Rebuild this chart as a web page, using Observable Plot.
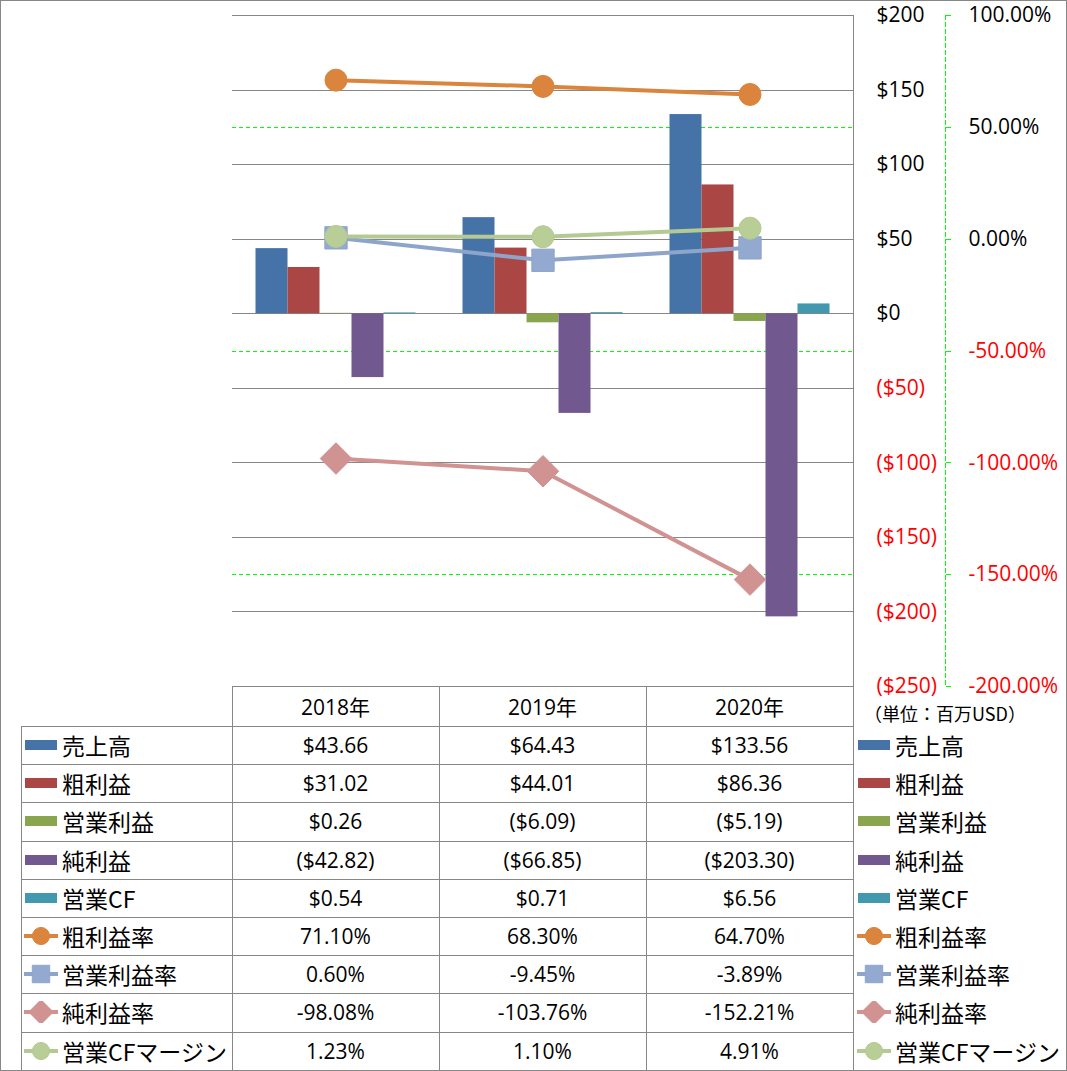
<!DOCTYPE html>
<html><head><meta charset="utf-8">
<script src="https://cdn.jsdelivr.net/npm/d3@7"></script>
<script src="https://cdn.jsdelivr.net/npm/@observablehq/plot@0.6"></script>
<style>
body{margin:0;background:#fff;}
#wrap{position:relative;width:1067px;height:1071px;overflow:hidden;background:#fff;font-family:"Open Sans","Noto Sans CJK JP",sans-serif;color:#000;}
#outer{position:absolute;left:0;top:0;width:1067px;height:1071px;box-sizing:border-box;border:1px solid #878787;pointer-events:none;}
#chart{position:absolute;left:0;top:0;}
#chart svg g[aria-label="rule"], #chart svg g[aria-label="frame"], #chart svg g[aria-label="y-axis tick"]{shape-rendering:crispEdges;}
.ln{position:absolute;background:#878787;}
.cell{position:absolute;display:flex;align-items:center;justify-content:center;font-size:21px;white-space:nowrap;}
.lab{position:absolute;display:flex;align-items:center;font-size:23px;white-space:nowrap;font-family:"Noto Sans CJK JP",sans-serif;}
.lab svg{margin-right:4px;}
</style>
</head><body>
<div id="wrap"><div id="chart"></div><div id="tbl"></div><div id="outer"></div></div>
<script>
// ---- data ----
const years = ["2018年", "2019年", "2020年"];
const barNames = ["売上高", "粗利益", "営業利益", "純利益", "営業CF"];
const lineNames = ["粗利益率", "営業利益率", "純利益率", "営業CFマージン"];
const sales = [43.66, 64.43, 133.56];
const grossProfit = [31.02, 44.01, 86.36];
const operatingIncome = [0.26, -6.09, -5.19];
const netIncome = [-42.82, -66.85, -203.30];
const operatingCF = [0.54, 0.71, 6.56];
const grossMargin = [71.10, 68.30, 64.70];
const operatingMargin = [0.60, -9.45, -3.89];
const netMargin = [-98.08, -103.76, -152.21];
const cfMargin = [1.23, 1.10, 4.91];
const dollarTicks = [200, 150, 100, 50, 0, -50, -100, -150, -200, -250];
const percentTicks = [100, 50, 0, -50, -100, -150, -200];
const unitNote = "（単位：百万USD）";

// ---- styles ----
const barColors = ["#4572A7", "#AA4643", "#89A54E", "#71588F", "#4198AF"];
const lineColors = ["#DB843D", "#8EA5CB", "#D09391", "#B5CA92"];
const markerFills = ["#DB843D", "#93A9CF", "#D19392", "#B9CD96"];
const symbols = ["circle", "square", "diamond2", "circle"];
const markerR = [11, 12.6, 14.2, 11];
const RED = "#FF0000", GRID = "#878787", GREEN = "#00FF00";

const barSeries = [sales, grossProfit, operatingIncome, netIncome, operatingCF];
const lineSeries = [grossMargin, operatingMargin, netMargin, cfMargin];

// secondary (%) axis mapped onto primary ($) axis: -200%..100% <-> -250..200
const pctToDollar = p => 50 + p * 1.5;
const dollarToPct = v => (v - 50) / 1.5;

const fmtDollarAxis = v => v < 0 ? `($${-v})` : `$${v}`;
const fmtPctAxis = p => `${p.toFixed(2)}%`;
const fmtDollarCell = v => v < 0 ? `($${(-v).toFixed(2)})` : `$${v.toFixed(2)}`;
const fmtPctCell = v => `${v.toFixed(2)}%`;

const W = 1067, plotLeft = 232, plotRight = 853;
const bandW = (plotRight - plotLeft) / years.length;
const barW = 32;
const groupOff = (bandW - barSeries.length * barW) / 2;

const marks = [
  Plot.ruleY(percentTicks, {y: pctToDollar, stroke: GREEN, strokeDasharray: "4,3"}),
  Plot.ruleY(dollarTicks, {stroke: GRID}),
  Plot.frame({anchor: "right", stroke: GRID}),
  Plot.frame({anchor: "right", dx: 92, stroke: GREEN, strokeDasharray: "4,3"}),
  ...barSeries.map((vals, i) => Plot.barY(years, {
    x: d => d, y: (d, j) => vals[j], fill: barColors[i],
    insetLeft: groupOff + i * barW, insetRight: bandW - groupOff - (i + 1) * barW
  })),
  ...lineSeries.flatMap((vals, i) => [
    Plot.line(years, {x: d => d, y: (d, j) => pctToDollar(vals[j]), stroke: lineColors[i], strokeWidth: 4}),
    Plot.dot(years, {x: d => d, y: (d, j) => pctToDollar(vals[j]), symbol: symbols[i], r: markerR[i],
      fill: markerFills[i], stroke: lineColors[i], strokeWidth: 1})
  ]),
  Plot.axisY(dollarTicks, {anchor: "right", tickSize: 0, tickPadding: 23, tickFormat: fmtDollarAxis,
    fill: d => d < 0 ? RED : "#000", fontSize: 21, textAnchor: "start"}),
  Plot.axisY(percentTicks.map(pctToDollar), {anchor: "right", dx: 92, tickSize: 5, tickPadding: 18,
    stroke: GREEN, tickFormat: v => fmtPctAxis(dollarToPct(v)),
    fill: v => dollarToPct(v) < 0 ? RED : "#000", fontSize: 21, textAnchor: "start"})
];

const chart = Plot.plot({
  width: W, height: 687,
  marginLeft: plotLeft, marginRight: W - plotRight, marginTop: 15, marginBottom: 1,
  style: {fontFamily: '"Open Sans", sans-serif', fontSize: "21px", background: "transparent", overflow: "visible"},
  x: {type: "band", domain: years, padding: 0, axis: null},
  y: {domain: [-250, 200], nice: false},
  marks
});
document.getElementById("chart").appendChild(chart);

// ---- data table ----
const tbl = document.getElementById("tbl");
const headTop = 686, headH = 40, rowH = 38.2, tblLeft = 21;
const colX = [plotLeft, plotLeft + bandW, plotLeft + 2 * bandW, plotRight];
const rowsN = barNames.length + lineNames.length;
const rowTop = r => headTop + headH + r * rowH;
const bottom = rowTop(rowsN);
function line(x, y, w, h) {
  const d = document.createElement("div"); d.className = "ln";
  Object.assign(d.style, {left: x + "px", top: y + "px", width: w + "px", height: h + "px"});
  tbl.appendChild(d);
}
line(colX[0], headTop, colX[3] - colX[0] + 1, 1);
for (let r = 0; r <= rowsN; r++) line(tblLeft, Math.round(rowTop(r)), colX[3] - tblLeft + 1, 1);
line(tblLeft, headTop + headH, 1, bottom - headTop - headH + 1);
colX.forEach(x => line(Math.round(x), headTop, 1, bottom - headTop + 1));

function cell(text, x, y, w, h, color) {
  const d = document.createElement("div"); d.className = "cell";
  Object.assign(d.style, {left: x + "px", top: y + "px", width: w + "px", height: h + "px", color: color || "#000"});
  d.textContent = text; tbl.appendChild(d);
}
years.forEach((y, i) => cell(y, colX[i], headTop, bandW, headH));

function swatch(kind, i) {
  const svg = d3.create("svg").attr("width", 34).attr("height", 22);
  if (kind === "bar") {
    svg.append("rect").attr("x", 1).attr("y", 6).attr("width", 32).attr("height", 10).attr("fill", barColors[i]);
  } else {
    svg.append("line").attr("x1", 0).attr("x2", 34).attr("y1", 11).attr("y2", 11)
      .attr("stroke", lineColors[i]).attr("stroke-width", 4);
    const sym = {circle: d3.symbolCircle, square: d3.symbolSquare, diamond2: d3.symbolDiamond2}[symbols[i]];
    const rr = markerR[i] * 0.78;
    svg.append("path").attr("transform", "translate(17,11)")
      .attr("d", d3.symbol(sym, Math.PI * rr * rr)())
      .attr("fill", markerFills[i]).attr("stroke", lineColors[i]);
  }
  return svg.node();
}
function label(name, kind, i, x, y, h) {
  const d = document.createElement("div"); d.className = "lab";
  Object.assign(d.style, {left: x + "px", top: y + "px", height: h + "px"});
  d.appendChild(swatch(kind, i));
  const s = document.createElement("span"); s.textContent = name; d.appendChild(s);
  tbl.appendChild(d);
}
const rows = [
  ...barNames.map((n, i) => ({name: n, kind: "bar", i, vals: barSeries[i], fmt: fmtDollarCell})),
  ...lineNames.map((n, i) => ({name: n, kind: "line", i, vals: lineSeries[i], fmt: fmtPctCell}))
];
rows.forEach((row, r) => {
  const y = rowTop(r);
  label(row.name, row.kind, row.i, tblLeft + 3, y, rowH);
  row.vals.forEach((v, c) => cell(row.fmt(v), colX[c], y, bandW, rowH));
  label(row.name, row.kind, row.i, plotRight + 4, y, rowH);
});
const note = document.createElement("div"); note.className = "lab";
Object.assign(note.style, {left: "864px", top: (headTop + 14) + "px", height: "26px", fontSize: "18px"});
note.textContent = unitNote; tbl.appendChild(note);
</script>
</body></html>
